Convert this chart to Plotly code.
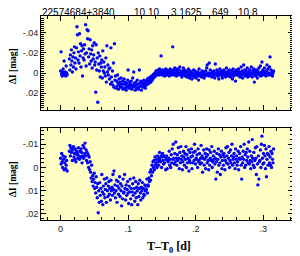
import plotly.graph_objects as go

# Time (units of 0.001 d)
T = [0, 0.75, 1.5, 2.25, 3, 3.75, 4.5, 5.25, 6, 6.75, 7.5, 8.25, 9, 9.75,
     13, 13.75, 14.5, 15.25, 16, 16.75, 17.5, 18.25, 19, 19.75, 20.5, 21.25,
     22, 22.75, 23.5, 24.25, 25, 25.75, 26.5, 27.25, 28, 28.75, 29.5, 30.25,
     31, 31.75, 32.5, 33.25, 34, 34.75, 35.5, 36.25, 37, 37.75, 38.5, 39.25,
     40, 40.75, 41.5, 42.25, 43, 43.75, 44.5, 45.25, 46, 46.75, 47.5, 48.25,
     49, 49.75, 50.5, 51.25, 52, 52.75, 53.5, 54.25, 55, 55.75, 56.5, 57.25,
     58, 58.75, 59.5, 60.25, 61, 61.75, 62.5, 63.25, 64, 64.75, 65.5, 66.25,
     67, 67.75, 68.5, 69.25, 70, 70.75, 71.5, 72.25, 73, 73.75, 74.5, 75.25,
     76, 76.75, 77.5, 78.25, 79, 79.75, 80.5, 81.25, 82, 82.75, 83.5, 84.25,
     85, 85.75, 86.5, 87.25, 88, 88.75, 89.5, 90.25, 91, 91.75, 92.5, 93.25,
     94, 94.75, 95.5, 96.25, 97, 97.75, 98.5, 99.25, 100, 100.75, 101.5, 102.25,
     103, 103.75, 104.5, 105.25, 106, 106.75, 107.5, 108.25, 109, 109.75, 110.5, 111.25,
     112, 112.75, 113.5, 114.25, 115, 115.75, 116.5, 117.25, 118, 118.75, 119.5, 120.25,
     121, 121.75, 122.5, 123.25, 124, 124.75, 125.5, 126.25, 127, 127.75, 128.5, 129.25,
     130, 130.75, 131.5, 132.25, 133, 133.75, 134.5, 135.25, 136, 136.75, 137.5, 138.25,
     139, 139.75, 140.5, 141.25, 142, 142.75, 143.5, 144.25, 145, 145.75, 146.5, 147.25,
     148, 148.75, 149.5, 150.25, 151, 151.75, 152.5, 153.25, 154, 154.75, 155.5, 156.25,
     157, 157.75, 158.5, 159.25, 160, 160.75, 161.5, 162.25, 163, 163.75, 164.5, 165.25,
     166, 166.75, 167.5, 168.25, 169, 169.75, 170.5, 171.25, 172, 172.75, 173.5, 174.25,
     175, 175.75, 176.5, 177.25, 178, 178.75, 179.5, 180.25, 181, 181.75, 182.5, 183.25,
     184, 184.75, 185.5, 186.25, 187, 187.75, 188.5, 189.25, 190, 190.75, 191.5, 192.25,
     193, 193.75, 194.5, 195.25, 196, 196.75, 197.5, 198.25, 199, 199.75, 200.5, 201.25,
     202, 202.75, 203.5, 204.25, 205, 205.75, 206.5, 207.25, 208, 208.75, 209.5, 210.25,
     211, 211.75, 212.5, 213.25, 214, 214.75, 215.5, 216.25, 217, 217.75, 218.5, 219.25,
     220, 220.75, 221.5, 222.25, 223, 223.75, 224.5, 225.25, 226, 226.75, 227.5, 228.25,
     229, 229.75, 230.5, 231.25, 232, 232.75, 233.5, 234.25, 235, 235.75, 236.5, 237.25,
     238, 238.75, 239.5, 240.25, 241, 241.75, 242.5, 243.25, 244, 244.75, 245.5, 246.25,
     247, 247.75, 248.5, 249.25, 250, 250.75, 251.5, 252.25, 253, 253.75, 254.5, 255.25,
     256, 256.75, 257.5, 258.25, 259, 259.75, 260.5, 261.25, 262, 262.75, 263.5, 264.25,
     265, 265.75, 266.5, 267.25, 268, 268.75, 269.5, 270.25, 271, 271.75, 272.5, 273.25,
     274, 274.75, 275.5, 276.25, 277, 277.75, 278.5, 279.25, 280, 280.75, 281.5, 282.25,
     283, 283.75, 284.5, 285.25, 286, 286.75, 287.5, 288.25, 289, 289.75, 290.5, 291.25,
     292, 292.75, 293.5, 294.25, 295, 295.75, 296.5, 297.25, 298, 298.75, 299.5, 300.25,
     301, 301.75, 302.5, 303.25, 304, 304.75, 305.5, 306.25, 307, 307.75, 308.5, 309.25,
     310, 310.75, 311.5, 312.25, 313, 313.75, 314.5, 315.25]

# Top panel, delta I (mmag)
DI_TOP = [-2, -21, 1, 3, -1, -4, 2, -12, 1, -1, 3, -7, 0, 2,
          -14, -3, -18, -8, -23, -12, -1, -16, -6, -20, -26, -10,
          -15, -4, -25, -46, -38, -13, -21, -10, -39, -17, -29, -6,
          -22, -27, 3, -15, -24, -13, -28, -19, -48, -7, -20, -43,
          -34, -42, -16, -24, -9, -33, -19, -12, -23, -5, -27, -14,
          -18, -30, -8, -11, 19, -28, -3, -15, 29, -20, -9, -2,
          -17, 4, -10, -6, -13, 5, -22, -2, -11, 0, -6, 3,
          -15, 9, -27, -1, -8, 2, -4, 6, -5, 11, -25, 4,
          9, -2, 12, -10, 14, -29, 7, 3, 15, 8, 13, 2,
          10, 16, 6, 12, 9, 14, 5, 11, 14, 8, 16, 11,
          6, 15, 9, 12, 17, 10, 14, 7, -3, 12, 15, 9,
          11, 13, 8, 16, 12, 5, 14, -1, 10, 13, 17, 9,
          12, 15, 7, 11, 16, 14, -3, 10, 13, 8, 17, 12,
          9, 14, 11, 7, 13, 10, 15, 8, 12, 9, 6, 11,
          8, 5, 10, 7, 4, 9, 6, 3, 7, 2, 5, 1,
          4, 0, 3, -2, 2, -1, 1, -3, 0, 2, -4, -2,
          1, -17, -1, 2, -3, 0, 1, -2, 3, -1, -4, 0,
          2, -3, 1, -1, -2, 3, 0, -4, 1, -2, 2, -1,
          -26, -3, 0, 2, -5, 1, -2, 3, -1, -4, 2, 0,
          -3, 1, -6, 2, 0, -2, 4, -1, 2, -5, 1, -3,
          -1, 3, 0, -2, 4, -1, 2, -4, 1, 5, -2, 3,
          -1, 2, 6, 0, 3, -3, 1, 4, -2, 2, 5, 0,
          1, -1, 3, 7, -4, 2, 0, 3, 1, 4, -2, 2,
          0, -1, 5, 2, 3, -2, 1, -5, -8, 2, 0, 3,
          -10, 1, -3, 2, 0, 4, -1, 2, 3, -2, 1, 5,
          -9, 0, 2, -3, 1, 3, -1, 6, 2, -4, 0, 1,
          -2, 3, 5, -1, 1, -3, 2, 0, 4, -1, -5, 2,
          0, 3, -2, 1, -3, 2, 4, 0, 1, -2, 6, -4,
          3, 0, -1, 2, 8, -3, 1, -2, 2, 0, -4, 3,
          -1, 4, 1, -6, 2, -2, 5, 0, -8, 1, -3, 3,
          0, -2, 2, -5, 4, 1, -1, 3, -3, 0, 2, -6,
          1, 4, -2, 0, -4, 9, 2, -1, 3, -3, 0, 5,
          -2, 1, -5, 2, 0, -7, 3, -1, -11, 2, -3, 1,
          -1, -5, 2, 0, 3, -2, -8, 1, -4, 0, 2, -6,
          -16, 1, -3, 2, -1, 3, 0, -2]

# Bottom panel, delta I (mmag)
DI_BOT = [-4, -1.5, -6, -2.5, 0, -5, -3.5, 1, -2, -4.5, 0.5, -1, -3, 1.5,
          -7, -9.5, -5, -8.5, -6.5, -8, -3, -7.5, -9, -4.5, -6, -3.5,
          -8, -2.5, -7, -5.5, -6, -4, -8.5, -5, -3.5, -7, -4.5, -8,
          -6.5, -2, -5, -9.5, -4, -8.5, -6, -10.5, -5, -7.5, -3, -6.5,
          -2, -5.5, 0, -4.5, 1, -2.5, 2, 4.5, -1, 6, 3.5, 8,
          5, 2.5, 9, 6.5, 11, 4, 8.5, 13, 7, 19.5, 10, 15,
          6.5, 12, 9, 14.5, 3, 10.5, 16, 8, 11.5, 5, 13, 9.5,
          7, 15, 4.5, 10, 12.5, 8, 6, 11.5, 9, 14, 5.5, 10,
          8.5, 12, 3, 9.5, 1.5, 11, 7.5, 13, 10, 5.5, 15, 8,
          6, 11.5, 9, 4, 12.5, 7, 10, 16.5, 8, 13.5, 5, 11,
          10.5, 3, 9, 14, 7.5, 12, 9.5, 6, 11, 15.5, 8, 10.5,
          5, 13.5, 9, 16, 10.5, 7, 12, 4.5, 9, 14.5, 11, 6,
          13, 8.5, 10, 16, 7, 12.5, 9, 5.5, 11, 14, 8.5, 10,
          6.5, 13, 9, 11.5, 12, 7.5, 10, 8, 9.5, 5, 11, 7.5,
          8, 4.5, 6, 2, 5.5, 1, 3.5, -1, 2, -2.5, 0, -3,
          1, -4.5, -1, -2, -3.5, 0, -5, -2.5, -1, -4, -6.5, -3,
          -2.5, -5, 0, -4.5, -6, -3, -1.5, -5, -2, -4.5, 1, -3.5,
          -5, 0.5, -3, -2.5, -4, -7, -1, -3.5, 0, -5.5, -2, -8,
          -3.5, -10, -4, -1.5, -6, -2.5, -11, -4, -1, -5.5, -3, -8.5,
          -4, 0.5, -6.5, -2, -9, -3.5, -5, 1, -2.5, -7, -4.5, -1,
          -6, -3.5, -9, 0, -5.5, -2, -4, -7.5, 1.5, -3, -6.5, -2,
          -4.5, -8, 0.5, -5, -2, -6.5, -3, -10, -7, -1.5, -4, -3.5,
          -5.5, 0, -8, -2.5, -3, -6, -1.5, -4, -9.5, -2, -5, 2,
          -4, -7.5, -1, -3.5, -6, 0.5, -4.5, -8, -2, -5.5, -3, 1,
          -7.5, -1, -4, -6.5, -3, -9, 0, -2.5, -5, -3.5, -7, -1.5,
          -4, 5, -2.5, -6, 2, -3.5, -8, -1, -5.5, -2, 3, -4.5,
          -7, 0.5, -3, -5.5, -1, -6, -4.5, 1, -3, -8.5, -2, -5,
          -9, -1.5, -4, -6.5, 0, -3, -7.5, -2, -5, -10, -1, -3.5,
          -4.5, -6, -2, 0.5, -8, -3.5, -5, -1, -2.5, -7, 1, -4,
          -6, -3.5, -9, -1, 5, -4.5, -2, -7, -3.5, -10, 0, -5.5,
          -1, -6.5, -3, -8, -4.5, -2, -11, -1.5, -7, -3, 0.5, -5,
          -2.5, -12, -4, -1, -6.5, 0, -3, -8.5, -4, 3, -9, -1.5,
          7.5, -5, 5, -2.5, -3, -7.5, 0, -10, -13.5, -4, -1.5, -6,
          -2, -9.5, -5, 0.5, -8, 4, -3.5, -6, -1, -5.5, -9, -2,
          -4.5, -1, -7, 0, -6, -3.5, -2, -8]

X_TICKS = [0, 0.1, 0.2, 0.3]
X_TICKTEXT = ["0", ".1", ".2", ".3"]
TOP_Y_TICKS = [-0.04, -0.02, 0, 0.02]
TOP_Y_TICKTEXT = ["-.04", "-.02", "0", ".02"]
BOT_Y_TICKS = [-0.01, 0, 0.01, 0.02]
BOT_Y_TICKTEXT = ["-.01", "0", ".01", ".02"]
HEADER = ["22574684+3840", "10.10", "3.1625", "649", "10.8"]
HEADER_PX = [41, 133, 170, 211, 237]

x_days = [t / 1000 for t in T]
y_top = [v / 1000 for v in DI_TOP]
y_bot = [v / 1000 for v in DI_BOT]

BG = "#ffffc4"
BLUE = "#0000ff"

fig = go.Figure()
fig.add_trace(go.Scatter(x=x_days, y=y_top, mode="markers",
                         marker=dict(color=BLUE, size=3.4, line=dict(width=0)),
                         xaxis="x", yaxis="y", showlegend=False))
fig.add_trace(go.Scatter(x=x_days, y=y_bot, mode="markers",
                         marker=dict(color=BLUE, size=3.4, line=dict(width=0)),
                         xaxis="x2", yaxis="y2", showlegend=False))

# page body has an 8px default margin: shrink the figure so it lands on the reference grid
OFF = 8
W, H = 300 - OFF, 256 - OFF
L, R, TOP, B = 41 - OFF, 7, 16 - OFF, 36
ph = H - TOP - B
pw = W - L - R

def py2paper(py):
    return (H - B - (py - OFF)) / ph

def px2paper(px):
    return (px - OFF - L) / pw

tickfont = dict(family="Liberation Sans, Arial, sans-serif", size=9, color="#222222")
minor_x = dict(dtick=0.02, tick0=0, ticks="inside", ticklen=3,
               tickcolor="black", tickwidth=1, showgrid=False)
minor_y = dict(dtick=0.002, tick0=0, ticks="inside", ticklen=3,
               tickcolor="black", tickwidth=1, showgrid=False)
common_x = dict(range=[-0.029, 0.344], showgrid=False, zeroline=False,
                ticks="inside", ticklen=5, tickwidth=1, tickcolor="black",
                showline=True, linecolor="black", linewidth=1, mirror="allticks",
                tickvals=X_TICKS, ticktext=X_TICKTEXT, tickfont=tickfont, minor=minor_x)
common_y = dict(showgrid=False, zeroline=False,
                ticks="inside", ticklen=5, tickwidth=1, tickcolor="black",
                showline=True, linecolor="black", linewidth=1, mirror="allticks",
                tickfont=tickfont, minor=minor_y)

fig.update_layout(
    width=W, height=H,
    margin=dict(l=L, r=R, t=TOP, b=B, pad=0),
    paper_bgcolor="white", plot_bgcolor="white",
    xaxis=dict(common_x, domain=[0, 1], anchor="y", showticklabels=False),
    yaxis=dict(common_y, domain=[py2paper(110), 1], anchor="x",
               range=[0.0367, -0.0566], tickvals=TOP_Y_TICKS, ticktext=TOP_Y_TICKTEXT),
    xaxis2=dict(common_x, domain=[0, 1], anchor="y2", showticklabels=True),
    yaxis2=dict(common_y, domain=[0, py2paper(128)], anchor="x2",
                range=[0.0226, -0.017], tickvals=BOT_Y_TICKS, ticktext=BOT_Y_TICKTEXT),
)

for xr, yr in (("x domain", "y domain"), ("x2 domain", "y2 domain")):
    fig.add_shape(type="rect", xref=xr, yref=yr, x0=0, x1=1, y0=0, y1=1,
                  fillcolor=BG, line=dict(width=0), layer="below")

ytitlefont = dict(family="Liberation Serif, Times New Roman, serif", size=9.5, color="black")
xtitlefont = dict(family="Liberation Serif, Times New Roman, serif", size=12, color="black")
annotations = []
for txt, px in zip(HEADER, HEADER_PX):
    annotations.append(dict(text=txt, x=px2paper(px), y=py2paper(12.5), xref="paper", yref="paper",
                            xanchor="left", yanchor="middle", showarrow=False, borderpad=0,
                            font=dict(family="Liberation Sans, Arial, sans-serif", size=10, color="black")))
annotations.append(dict(text="<b>ΔI [mag]</b>", x=px2paper(13), y=py2paper(66), xref="paper",
                        yref="paper", textangle=-90, showarrow=False, font=ytitlefont,
                        xanchor="center", yanchor="middle", borderpad=0))
annotations.append(dict(text="<b>ΔI [mag]</b>", x=px2paper(13), y=py2paper(179), xref="paper",
                        yref="paper", textangle=-90, showarrow=False, font=ytitlefont,
                        xanchor="center", yanchor="middle", borderpad=0))
annotations.append(dict(text="<b>T–T<sub>0</sub> [d]</b>", x=px2paper(169), y=py2paper(247),
                        xref="paper", yref="paper", showarrow=False, font=xtitlefont,
                        xanchor="center", yanchor="middle", borderpad=0))
fig.update_layout(annotations=annotations)

fig.write_html("out.html")
